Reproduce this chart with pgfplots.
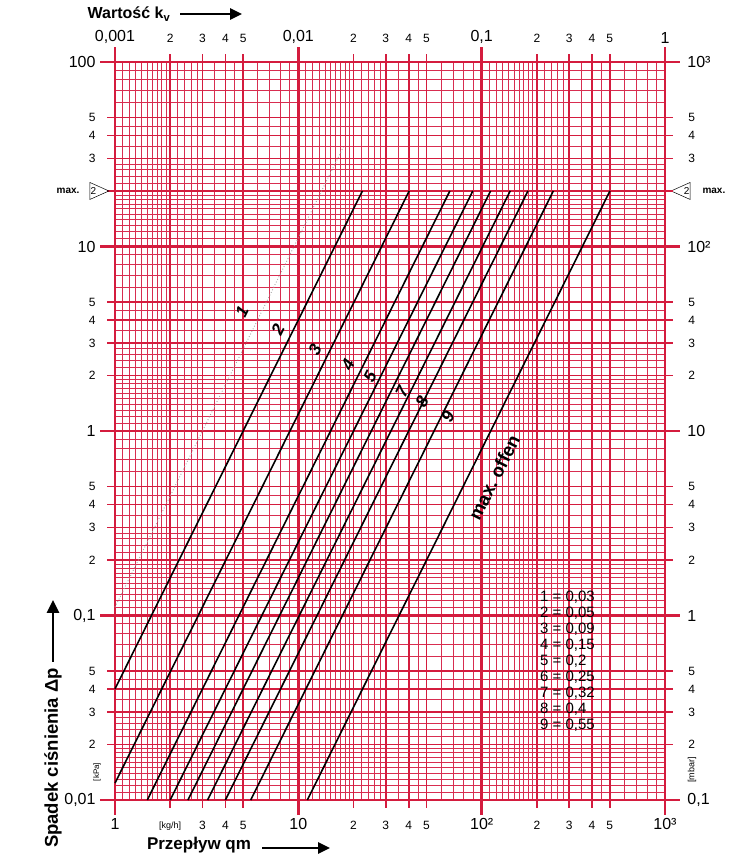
\documentclass[border=0pt]{standalone}
\usepackage{pgfplots}
\pgfplotsset{compat=1.18}
\usepackage{fontspec}
\setmainfont{Liberation Sans}
\usetikzlibrary{shapes.geometric,arrows.meta}
\definecolor{gridred}{RGB}{212,28,62}
\definecolor{gridthin}{RGB}{216,45,80}
\newcommand{\bigf}{\fontsize{16}{16}\selectfont}
\newcommand{\smf}{\fontsize{12}{12}\selectfont}
\begin{document}
\begin{tikzpicture}
% ---------- fine grid ----------
\begin{axis}[xmode=log, ymode=log, scale only axis, width=550pt, height=738pt, clip=false,
  xmin=1,xmax=1000,ymin=0.01,ymax=100,
  axis line style={draw=none}, major tick length=0pt,
  xtick={1.1,1.2,1.3,1.4,1.5,1.6,1.7,1.8,1.9,2.2,2.4,2.6,2.8,3.5,4.5,6,7,8,9,
         11,12,13,14,15,16,17,18,19,22,24,26,28,35,45,60,70,80,90,
         110,120,130,140,150,160,170,180,190,220,240,260,280,350,450,600,700,800,900},
  ytick={0.011,0.012,0.013,0.014,0.015,0.016,0.017,0.018,0.019,0.022,0.024,0.026,0.028,0.035,0.045,0.06,0.07,0.08,0.09,
         0.11,0.12,0.13,0.14,0.15,0.16,0.17,0.18,0.19,0.22,0.24,0.26,0.28,0.35,0.45,0.6,0.7,0.8,0.9,
         1.1,1.2,1.3,1.4,1.5,1.6,1.7,1.8,1.9,2.2,2.4,2.6,2.8,3.5,4.5,6,7,8,9,
         11,12,13,14,15,16,17,18,19,22,24,26,28,35,45,60,70,80,90},
  xticklabels={}, yticklabels={},
  grid=major, major grid style={gridthin, line width=0.9pt}]
\addplot[draw=none] coordinates {(1,0.01) (1000,100)};
\end{axis}
% ---------- main axis (bottom / left) ----------
\begin{axis}[xmode=log, ymode=log, scale only axis, width=550pt, height=738pt, clip=false,
  name=main, xmin=1,xmax=1000,ymin=0.01,ymax=100,
  axis line style={gridred, line width=2.6pt},
  tick align=outside, xtick pos=left, ytick pos=left,
  xtick={2,3,4,5,20,30,40,50,200,300,400,500},
  xticklabels={{\fontsize{9}{9}\selectfont[kg/h]},3,4,5,2,3,4,5,2,3,4,5},
  ytick={0.02,0.03,0.04,0.05,0.2,0.3,0.4,0.5,2,3,4,5,20,30,40,50},
  yticklabels={2,3,4,5,2,3,4,5,2,3,4,5,{},3,4,5},
  major tick length=8pt,
  major tick style={gridred, line width=1.6pt},
  grid=major, major grid style={gridred, line width=1.6pt},
  xticklabel style={font=\smf, yshift=-10pt},
  yticklabel style={font=\smf, xshift=-8pt},
  extra x ticks={1,10,100,1000}, extra x tick labels={1,10,10²,10³},
  extra y ticks={0.01,0.1,1,10,100}, extra y tick labels={{0,01},{0,1},1,10,100},
  extra x tick style={major tick length=15pt, major tick style={gridred,line width=2.6pt},
     major grid style={gridred,line width=2.6pt}, xticklabel style={font=\bigf, yshift=10pt}},
  extra y tick style={major tick length=15pt, major tick style={gridred,line width=2.6pt},
     major grid style={gridred,line width=2.6pt}, yticklabel style={font=\bigf, xshift=7pt}},
]
\addplot[gray!70, dotted, line width=0.9pt] coordinates {(1,0.111) (17.6,34.6)};
\addplot[black, line width=1.6pt] coordinates {(1,0.04) (22.36,20)};
\addplot[black, line width=1.6pt] coordinates {(1,0.01235) (40.25,20)};
\addplot[black, line width=1.6pt] coordinates {(1.5,0.01) (67.08,20)};
\addplot[black, line width=1.6pt] coordinates {(2,0.01) (89.44,20)};
\addplot[black, line width=1.6pt] coordinates {(2.5,0.01) (111.8,20)};
\addplot[black, line width=1.6pt] coordinates {(3.2,0.01) (143.1,20)};
\addplot[black, line width=1.6pt] coordinates {(4,0.01) (178.9,20)};
\addplot[black, line width=1.6pt] coordinates {(5.5,0.01) (246.0,20)};
\addplot[black, line width=1.6pt] coordinates {(11.2,0.01) (500.9,20)};
% curve labels
\begin{scope}[every node/.style={rotate=63.5, font=\bfseries\itshape\fontsize{17}{17}\selectfont}]
\node at (axis cs:4.93,4.42) {1};
\node at (axis cs:7.75,3.53) {2};
\node at (axis cs:12.34,2.75) {3};
\node at (axis cs:18.67,2.28) {4};
\node at (axis cs:24.6,1.96) {5};
\node at (axis cs:36.8,1.63) {7};
\node at (axis cs:47.3,1.45) {8};
\node at (axis cs:65.6,1.19) {9};
\end{scope}
\node[rotate=63.5, font=\bfseries\fontsize{18.5}{18.5}\selectfont] at (axis cs:117,0.56) {max.\ offen};
% legend text
\node[anchor=north west, align=left, inner sep=0pt, font=\fontsize{15}{16}\selectfont] at (axis cs:208,0.1358)
 {1 = 0,03\\2 = 0,05\\3 = 0,09\\4 = 0,15\\5 = 0,2\\6 = 0,25\\7 = 0,32\\8 = 0,4\\9 = 0,55};
% max markers
\node[isosceles triangle, isosceles triangle stretches, draw=black, line width=0.5pt, inner sep=0pt,
      minimum height=19pt, minimum width=17pt, font=\fontsize{10}{10}\selectfont, xshift=-20pt] at (axis cs:1,20) {2\,\,};
\node[anchor=east, font=\fontsize{10}{10}\selectfont\bfseries, xshift=-32pt] at (axis cs:1,20) {max.};
\node[isosceles triangle, isosceles triangle stretches, shape border rotate=180, draw=black, line width=0.5pt, inner sep=0pt,
      minimum height=19pt, minimum width=17pt, font=\fontsize{10}{10}\selectfont, xshift=20pt] at (axis cs:1000,20) {\,\,2};
\node[anchor=west, font=\fontsize{10}{10}\selectfont\bfseries, xshift=34pt] at (axis cs:1000,20) {max.};
\node[xshift=-18pt, rotate=90, font=\fontsize{8}{8}\selectfont] at (axis cs:1,0.0142) {[kPa]};
\node[xshift=27pt, rotate=90, font=\fontsize{9}{9}\selectfont] at (axis cs:1000,0.0145) {[mbar]};
\end{axis}
% ---------- top / right axis ----------
\begin{axis}[xmode=log, ymode=log, scale only axis, width=550pt, height=738pt, clip=false,
  xmin=0.001,xmax=1,ymin=0.1,ymax=1000,
  axis line style={draw=none},
  tick align=outside, xtick pos=right, ytick pos=right, xticklabel pos=right, yticklabel pos=right,
  xtick={0.002,0.003,0.004,0.005,0.02,0.03,0.04,0.05,0.2,0.3,0.4,0.5},
  xticklabels={2,3,4,5,2,3,4,5,2,3,4,5},
  ytick={0.2,0.3,0.4,0.5,2,3,4,5,20,30,40,50,200,300,400,500},
  yticklabels={2,3,4,5,2,3,4,5,2,3,4,5,{},3,4,5},
  major tick length=8pt,
  major tick style={gridred, line width=1.6pt},
  xticklabel style={font=\smf, yshift=8pt},
  yticklabel style={font=\smf, xshift=12pt},
  extra x ticks={0.001,0.01,0.1,1}, extra x tick labels={{0,001},{0,01},{0,1},1},
  extra y ticks={0.1,1,10,100,1000}, extra y tick labels={{0,1},1,10,10²,10³},
  extra x tick style={major tick length=15pt, major tick style={gridred,line width=2.6pt},
     xticklabel style={font=\bigf, yshift=-8pt}},
  extra y tick style={major tick length=15pt, major tick style={gridred,line width=2.6pt},
     yticklabel style={font=\bigf, xshift=-8pt}},
]
\addplot[draw=none] coordinates {(0.001,0.1) (1,1000)};
\end{axis}
% titles
\node[font=\bfseries\fontsize{16}{16}\selectfont] at ([xshift=14pt,yshift=48pt]main.north west) {Wartość k\textsubscript{v}};
\draw[line width=2.6pt, -{Triangle[length=12pt,width=11pt]}] ([xshift=65pt,yshift=48pt]main.north west) -- ([xshift=127pt,yshift=48pt]main.north west);
\node[font=\bfseries\fontsize{17}{17}\selectfont] at ([xshift=84pt,yshift=-45pt]main.south west) {Przepływ qm};
\draw[line width=2.6pt, -{Triangle[length=12pt,width=11pt]}] ([xshift=147pt,yshift=-48pt]main.south west) -- ([xshift=215pt,yshift=-48pt]main.south west);
\node[rotate=90, font=\bfseries\fontsize{18.5}{18.5}\selectfont] at ([xshift=-62pt,yshift=42pt]main.south west) {Spadek ciśnienia Δp};
\draw[line width=2.6pt, -{Triangle[length=13pt,width=12pt]}] ([xshift=-62pt,yshift=138pt]main.south west) -- ([xshift=-62pt,yshift=200pt]main.south west);
\path[use as bounding box] ([xshift=-115pt,yshift=-59pt]main.south west) rectangle ([xshift=623pt,yshift=800pt]main.south west);
\end{tikzpicture}
\end{document}
